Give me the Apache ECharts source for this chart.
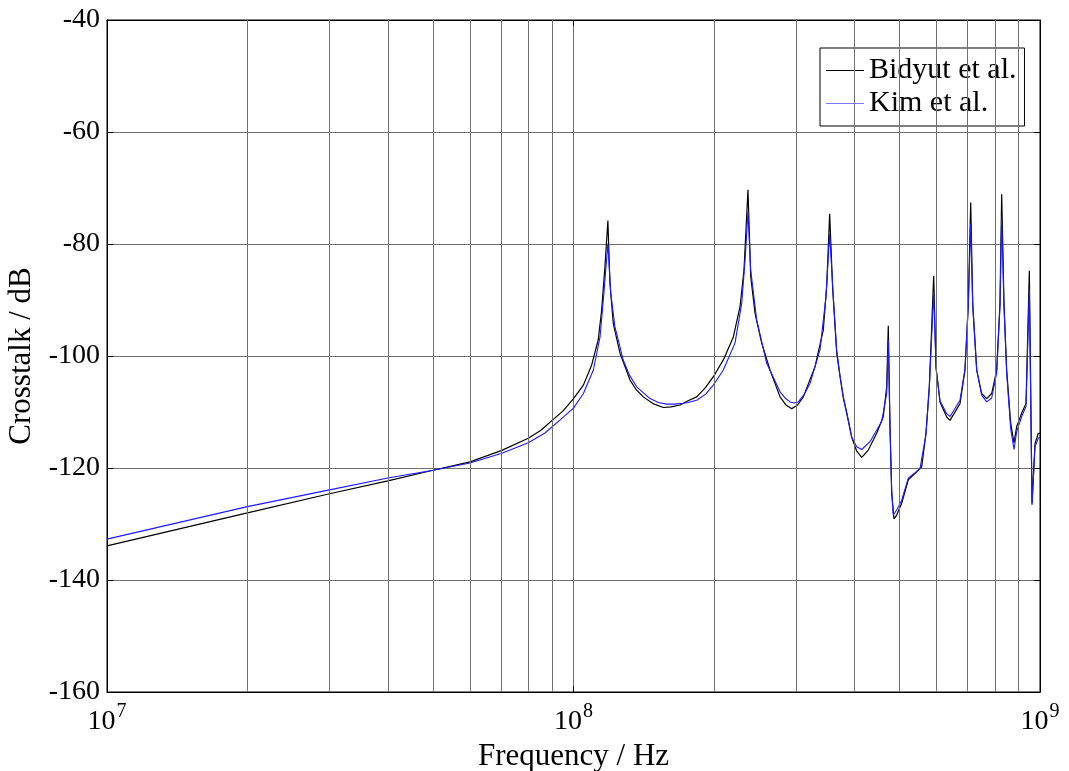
<!DOCTYPE html>
<html>
<head>
<meta charset="utf-8">
<title>Crosstalk vs Frequency</title>
<script src="https://cdn.jsdelivr.net/npm/echarts@6/dist/echarts.min.js"></script>
<style>
  html, body { margin: 0; padding: 0; background: #fff; }
  #chart { width: 1069px; height: 771px; }
</style>
</head>
<body>
<div id="chart"></div>
<script>
// Bidyut et al. — frequency (Hz) and crosstalk (dB)
const bidyutFreq = [
  1.0e7, 2.0e7, 3.0e7, 4.0e7, 5.0e7, 6.0e7, 7.0e7, 8.0e7, 8.5e7, 9.0e7, 9.5e7,
  1.0e8, 1.05e8, 1.094e8, 1.13e8, 1.149e8, 1.168e8, 1.185e8, 1.197e8, 1.217e8,
  1.258e8, 1.322e8, 1.36e8, 1.411e8, 1.48e8, 1.558e8, 1.62e8, 1.692e8, 1.76e8,
  1.837e8, 1.92e8, 1.994e8, 2.095e8,
  2.201e8, 2.275e8, 2.320e8, 2.366e8, 2.398e8, 2.450e8, 2.532e8, 2.638e8,
  2.772e8, 2.85e8, 2.936e8, 3.02e8, 3.109e8, 3.294e8, 3.431e8, 3.489e8, 3.541e8, 3.594e8,
  3.666e8, 3.727e8, 3.788e8, 3.851e8, 3.948e8, 4.047e8, 4.148e8, 4.285e8,
  4.466e8, 4.614e8, 4.692e8, 4.729e8, 4.769e8, 4.809e8, 4.864e8, 4.929e8,
  5.052e8, 5.220e8, 5.441e8, 5.577e8, 5.696e8, 5.790e8, 5.859e8, 5.917e8,
  5.985e8, 6.104e8, 6.310e8, 6.413e8, 6.738e8, 6.906e8, 7.020e8, 7.103e8,
  7.174e8, 7.317e8, 7.499e8, 7.686e8, 7.879e8, 8.075e8, 8.208e8, 8.277e8,
  8.371e8, 8.483e8, 8.653e8, 8.796e8, 8.913e8, 9.137e8, 9.333e8, 9.487e8,
  9.614e8, 9.757e8, 9.917e8, 1.0e9
];
const bidyutDb = [
  -133.9, -128.0, -124.6, -122.3, -120.4, -118.9, -116.9, -114.7, -113.3, -111.5, -109.8,
  -107.6, -105.2, -101.6, -97.1, -91.8, -84.0, -75.8, -87.0, -94.2,
  -99.5, -104.3, -105.9, -107.3, -108.5, -109.2, -109.1, -108.75, -108.0,
  -107.3, -105.6, -103.7, -100.7,
  -96.6, -91.2, -84.6, -70.3, -85.8, -92.4, -97.7, -102.5,
  -107.3, -108.7, -109.4, -108.8, -107.3, -101.9, -95.4, -87.6, -74.6, -88.0,
  -99.5, -103.7, -107.5, -110.2, -114.5, -117.0, -118.1, -116.8,
  -113.8, -110.8, -105.5, -94.6, -112.6, -124.5, -129.1, -128.4,
  -126.3, -122.1, -120.7, -119.8, -113.8, -105.5, -94.8, -85.7,
  -102.0, -108.2, -110.9, -111.5, -108.5, -102.5, -90.6, -72.6,
  -90.6, -102.5, -106.7, -107.6, -106.7, -102.5, -90.6, -71.1,
  -90.6, -102.5, -112.0, -115.5, -112.6, -110.2, -108.5, -84.8,
  -126.3, -115.6, -113.8, -113.8
];

// Kim et al. — frequency (Hz) and crosstalk (dB)
const kimFreq = [
  1.0e7, 2.0e7, 3.0e7, 4.0e7, 5.0e7, 6.0e7, 7.0e7, 8.0e7, 8.7e7, 9.36e7,
  1.0e8, 1.05e8, 1.103e8, 1.14e8, 1.162e8, 1.185e8, 1.202e8, 1.227e8, 1.278e8,
  1.32e8, 1.366e8, 1.459e8, 1.52e8, 1.584e8, 1.65e8, 1.720e8, 1.76e8, 1.837e8, 1.92e8,
  1.994e8, 2.095e8, 2.219e8,
  2.294e8, 2.335e8, 2.366e8, 2.398e8, 2.470e8, 2.595e8, 2.772e8, 2.85e8, 2.912e8, 2.97e8,
  3.033e8, 3.12e8, 3.214e8, 3.376e8, 3.477e8, 3.541e8, 3.605e8, 3.666e8, 3.727e8,
  3.788e8, 3.851e8, 3.948e8, 4.047e8, 4.148e8, 4.321e8, 4.578e8, 4.692e8,
  4.729e8, 4.769e8, 4.809e8, 4.847e8, 4.929e8, 5.052e8, 5.220e8, 5.531e8,
  5.696e8, 5.790e8, 5.859e8, 5.917e8, 5.985e8, 6.104e8, 6.310e8, 6.413e8,
  6.738e8, 6.906e8, 7.020e8, 7.103e8, 7.174e8, 7.317e8, 7.499e8, 7.686e8,
  7.879e8, 8.075e8, 8.208e8, 8.277e8, 8.371e8, 8.483e8, 8.653e8, 8.796e8,
  8.913e8, 9.137e8, 9.333e8, 9.487e8, 9.614e8, 9.757e8, 9.917e8, 1.0e9
];
const kimDb = [
  -132.7, -126.9, -123.9, -121.8, -120.4, -119.1, -117.4, -115.5, -113.7, -111.4,
  -109.3, -106.7, -102.5, -96.6, -88.8, -79.9, -88.8, -94.8, -100.7,
  -103.5, -105.5, -107.6, -108.3, -108.6, -108.6, -108.45, -108.3, -107.9, -106.8,
  -105.2, -102.5, -97.7,
  -90.6, -82.3, -74.2, -84.6, -93.6, -101.3, -106.4, -107.6, -108.2, -108.4,
  -108.2, -106.9, -104.9, -98.9, -89.4, -78.2, -89.4, -99.0, -103.5,
  -107.3, -110.0, -114.5, -116.2, -116.7, -115.3, -111.7, -106.7,
  -97.1, -112.6, -123.8, -128.4, -127.5, -125.8, -121.8, -120.1,
  -114.0, -105.8, -96.5, -88.5, -102.0, -108.0, -110.3, -110.8,
  -107.9, -102.3, -91.0, -76.3, -91.0, -102.5, -107.0, -108.2,
  -107.5, -103.0, -91.0, -75.1, -91.0, -103.0, -113.0, -116.7,
  -113.5, -110.8, -109.0, -88.0, -126.6, -116.2, -114.7, -114.5
];

// Minor log-decade grid positions
const minorGrid = [2e7, 3e7, 4e7, 5e7, 6e7, 7e7, 8e7, 9e7, 2e8, 3e8, 4e8, 5e8, 6e8, 7e8, 8e8, 9e8];

const seriesNames = ['Bidyut et al.', 'Kim et al.'];

const FONT = '"Liberation Serif", "Times New Roman", serif';
const GRID_COLOR = '#707070';

function pairs(xs, ys) {
  return xs.map((x, i) => [x, ys[i]]);
}

const chart = echarts.init(document.getElementById('chart'), null, { renderer: 'canvas' });

chart.setOption({
  animation: false,
  backgroundColor: '#fff',
  grid: {
    left: 107, right: 29, top: 20, bottom: 79,
    containLabel: false, outerBoundsMode: 'none',
    show: true, borderColor: '#000', borderWidth: 1, backgroundColor: '#fff'
  },
  legend: {
    data: seriesNames,
    orient: 'vertical',
    left: 820, top: 48,
    backgroundColor: '#fff',
    borderColor: '#000', borderWidth: 1, borderRadius: 0,
    padding: [7, 8, 7, 6],
    itemGap: 2,
    itemWidth: 38, itemHeight: 1,
    icon: 'rect',
    textStyle: { fontFamily: FONT, fontSize: 30, color: '#000', lineHeight: 31 }
  },
  xAxis: [{
    type: 'log', logBase: 10, min: 1e7, max: 1e9,
    name: 'Frequency / Hz', nameLocation: 'middle', nameGap: 41,
    nameTextStyle: { fontFamily: FONT, fontSize: 31, color: '#000' },
    axisLine: { show: true, onZero: false, lineStyle: { color: '#000', width: 1 } },
    axisTick: { show: true, inside: true, length: 6, lineStyle: { color: '#000' } },
    splitLine: { show: true, lineStyle: { color: GRID_COLOR, width: 1 } },
    axisLabel: {
      margin: 10,
      formatter: v => '{b|10}{s|' + Math.round(Math.log10(v)) + '}',
      rich: {
        b: { fontFamily: FONT, fontSize: 28, color: '#000', lineHeight: 34, verticalAlign: 'bottom' },
        s: { fontFamily: FONT, fontSize: 20, color: '#000', lineHeight: 34, verticalAlign: 'top', padding: [0, 0, 0, 1] }
      }
    }
  }, {
    type: 'log', logBase: 10, min: 1e7, max: 1e9, position: 'top',
    axisLine: { show: true, onZero: false, lineStyle: { color: '#000' } },
    axisTick: { show: true, inside: true, length: 6, lineStyle: { color: '#000' } },
    axisLabel: { show: false }, splitLine: { show: false }
  }],
  yAxis: [{
    type: 'value', min: -160, max: -40, interval: 20,
    name: 'Crosstalk / dB', nameLocation: 'middle', nameGap: 69,
    nameTextStyle: { fontFamily: FONT, fontSize: 31, color: '#000' },
    axisLine: { show: true, onZero: false, lineStyle: { color: '#000', width: 1 } },
    axisTick: { show: true, inside: true, length: 6, lineStyle: { color: '#000' } },
    splitLine: { show: true, lineStyle: { color: GRID_COLOR, width: 1 } },
    axisLabel: { fontFamily: FONT, fontSize: 28, color: '#000', margin: 7 }
  }, {
    type: 'value', min: -160, max: -40, interval: 20, position: 'right',
    axisLine: { show: true, onZero: false, lineStyle: { color: '#000' } },
    axisTick: { show: true, inside: true, length: 6, lineStyle: { color: '#000' } },
    axisLabel: { show: false }, splitLine: { show: false }
  }],
  series: [
    {
      name: 'grid-minor', type: 'line', data: [], z: 1, silent: true,
      markLine: {
        silent: true, symbol: 'none', label: { show: false },
        lineStyle: { color: GRID_COLOR, width: 1, type: 'solid' },
        emphasis: { disabled: true },
        data: minorGrid.map(v => ({ xAxis: v }))
      }
    },
    {
      name: seriesNames[0], type: 'line', showSymbol: false, symbol: 'none', z: 3,
      lineStyle: { color: '#000', width: 1.2 }, itemStyle: { color: '#000' },
      data: pairs(bidyutFreq, bidyutDb)
    },
    {
      name: seriesNames[1], type: 'line', showSymbol: false, symbol: 'none', z: 4,
      lineStyle: { color: '#1a1aff', width: 1.1 }, itemStyle: { color: '#7777ff' },
      data: pairs(kimFreq, kimDb)
    }
  ]
});
</script>
</body>
</html>
